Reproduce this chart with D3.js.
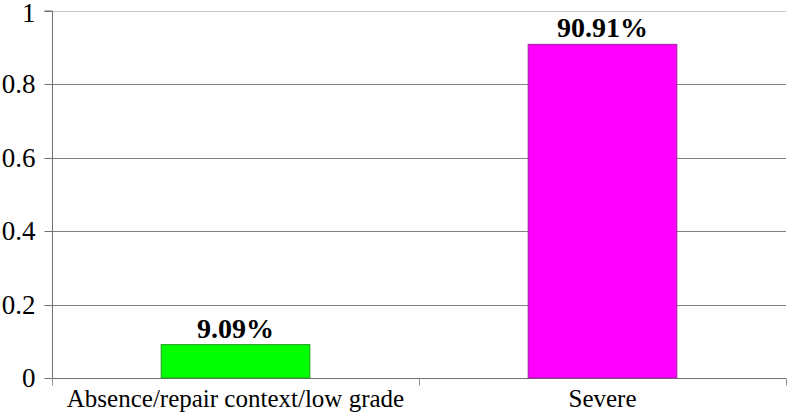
<!DOCTYPE html>
<html><head><meta charset="utf-8">
<script src="https://cdn.jsdelivr.net/npm/d3@7"></script>
<style>body{margin:0;background:#fff}svg{display:block}</style>
</head><body>
<svg id="c" width="787" height="413"></svg>
<script>
const categories = ["Absence/repair context/low grade", "Severe"];
const values = [0.0909, 0.9091];
const valueLabels = ["9.09%", "90.91%"];
const barColors = ["#00ff00", "#ff00ff"];
const barStrokes = ["#229922", "#992299"];
const yTicks = [0, 0.2, 0.4, 0.6, 0.8, 1];
const yTickLabels = ["0", "0.2", "0.4", "0.6", "0.8", "1"];

(function () {
const svg = d3.select("#c");
const mLeft = 52, mRight = 786, mTop = 11, mBottom = 378;
const font = "'Liberation Serif', 'Times New Roman', serif";

const x = d3.scaleBand().domain(categories).range([mLeft, mRight]).paddingInner(0).paddingOuter(0);
const y = d3.scaleLinear().domain([0, 1]).range([mBottom, mTop]);

// gridlines
svg.append("g").selectAll("line").data(yTicks.filter(d => d > 0)).join("line")
  .attr("x1", mLeft).attr("x2", mRight)
  .attr("y1", d => Math.round(y(d)) + 0.5).attr("y2", d => Math.round(y(d)) + 0.5)
  .attr("stroke", d => d === 1 ? "#c8c8c8" : "#808080").attr("stroke-width", 1);

// y axis
const yAxis = d3.axisLeft(y).tickValues(yTicks).tickFormat((d, i) => yTickLabels[i]).tickSize(8).tickPadding(9);
const gy = svg.append("g").attr("transform", `translate(${mLeft + 0.5},0)`).call(yAxis);
gy.select(".domain").attr("stroke", "#707070").attr("d", `M-8,${mTop}H0V${mBottom + 7}`);
gy.selectAll(".tick line").attr("stroke", "#707070");
gy.selectAll(".tick").attr("transform", d => `translate(0,${Math.round(y(d)) + 0.5})`);
gy.selectAll("text").attr("font-family", font).attr("font-size", 27).attr("fill", "#000")
  .attr("y", d => d === 1 ? 2 : 0);

// x axis
const gx = svg.append("g").attr("transform", `translate(0,${mBottom + 0.5})`);
gx.append("line").attr("x1", mLeft).attr("x2", mRight).attr("stroke", "#707070");
const bounds = [mLeft, ...categories.map(c => x(c) + x.bandwidth())];
gx.selectAll("line.t").data(bounds).join("line").attr("class", "t")
  .attr("x1", d => Math.round(d) + 0.5).attr("x2", d => Math.round(d) + 0.5)
  .attr("y1", 0).attr("y2", 7).attr("stroke", "#909090");
gx.selectAll("text").data(categories).join("text")
  .attr("x", d => x(d) + x.bandwidth() / 2).attr("y", 28.5)
  .attr("text-anchor", "middle").attr("font-family", font).attr("font-size", 25).attr("fill", "#000")
  .text(d => d);

// bars
const bw = x.bandwidth() * 0.405;
svg.append("g").selectAll("rect").data(values).join("rect")
  .attr("x", (d, i) => x(categories[i]) + x.bandwidth() / 2 - bw / 2)
  .attr("width", bw)
  .attr("y", d => y(d)).attr("height", d => mBottom - y(d))
  .attr("fill", (d, i) => barColors[i]).attr("stroke", (d, i) => barStrokes[i]).attr("stroke-width", 1);

// value labels
svg.append("g").selectAll("text").data(values).join("text")
  .attr("x", (d, i) => x(categories[i]) + x.bandwidth() / 2)
  .attr("y", d => y(d) - 7)
  .attr("text-anchor", "middle").attr("font-family", font).attr("font-size", 28).attr("font-weight", "bold")
  .text((d, i) => valueLabels[i]);
})();
</script>
</body></html>
